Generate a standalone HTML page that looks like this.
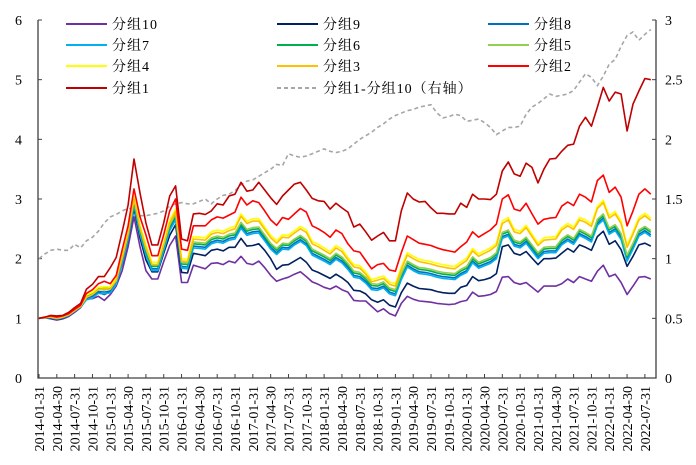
<!DOCTYPE html>
<html><head><meta charset="utf-8">
<style>
html,body{margin:0;padding:0;background:#fff;}
svg{display:block;font-family:"Liberation Serif","Noto Serif CJK SC",serif;}
</style></head>
<body>
<svg id="chart" width="696" height="465" viewBox="0 0 696 465" xmlns="http://www.w3.org/2000/svg">
<g id="axes"></g>
<g id="series"></g>
<g id="legend"></g>
</svg>
<script>
const leftTicks = [0,1,2,3,4,5,6];
const rightTicks = ["0","0.5","1","1.5","2","2.5","3"];
const xLabels = ["2014-01-31","2014-04-30","2014-07-31","2014-10-31","2015-01-31","2015-04-30","2015-07-31","2015-10-31","2016-01-31","2016-04-30","2016-07-31","2016-10-31","2017-01-31","2017-04-30","2017-07-31","2017-10-31","2018-01-31","2018-04-30","2018-07-31","2018-10-31","2019-01-31","2019-04-30","2019-07-31","2019-10-31","2020-01-31","2020-04-30","2020-07-31","2020-10-31","2021-01-31","2021-04-30","2021-07-31","2021-10-31","2022-01-31","2022-04-30","2022-07-31"];

const g1 = [1.00,1.02,1.05,1.04,1.05,1.10,1.18,1.25,1.49,1.57,1.70,1.70,1.85,2.02,2.45,2.90,3.67,3.10,2.60,2.23,2.23,2.60,3.05,3.22,2.33,2.30,2.75,2.76,2.74,2.80,2.92,2.90,3.05,3.08,3.28,3.13,3.15,3.28,3.15,3.02,2.91,3.05,3.15,3.25,3.28,3.15,3.01,2.97,2.96,2.83,2.93,2.85,2.78,2.53,2.58,2.45,2.31,2.38,2.44,2.30,2.30,2.80,3.10,3.00,2.95,2.96,2.85,2.76,2.76,2.75,2.75,2.93,2.86,3.08,3.00,3.00,2.99,3.08,3.47,3.62,3.42,3.38,3.60,3.53,3.27,3.50,3.67,3.68,3.80,3.90,3.92,4.22,4.37,4.22,4.54,4.87,4.64,4.79,4.76,4.14,4.59,4.81,5.02,5.00];
const g2 = [1.00,1.02,1.04,1.02,1.04,1.08,1.15,1.22,1.42,1.48,1.58,1.62,1.58,1.72,2.15,2.55,3.17,2.70,2.40,2.05,2.05,2.40,2.80,3.00,2.16,2.14,2.55,2.55,2.55,2.65,2.70,2.68,2.73,2.78,3.03,2.90,2.97,2.94,2.80,2.65,2.56,2.69,2.66,2.75,2.84,2.78,2.55,2.50,2.44,2.36,2.48,2.42,2.25,2.13,2.11,1.97,1.83,1.90,1.92,1.81,1.79,2.10,2.38,2.32,2.26,2.24,2.22,2.18,2.15,2.13,2.11,2.20,2.28,2.45,2.36,2.42,2.48,2.58,3.00,3.07,2.83,2.80,2.93,2.75,2.58,2.66,2.68,2.69,2.88,2.95,2.89,3.08,3.03,2.95,3.31,3.40,3.11,3.20,3.03,2.55,2.80,3.08,3.17,3.08];
const g3 = [1.00,1.01,1.02,1.00,1.02,1.06,1.13,1.20,1.35,1.40,1.48,1.49,1.49,1.63,2.01,2.41,3.00,2.52,2.19,1.90,1.90,2.23,2.60,2.79,1.96,1.95,2.33,2.32,2.31,2.41,2.44,2.42,2.47,2.50,2.71,2.59,2.63,2.63,2.49,2.35,2.26,2.36,2.35,2.43,2.50,2.44,2.25,2.20,2.14,2.08,2.18,2.12,1.98,1.86,1.84,1.74,1.61,1.64,1.67,1.57,1.54,1.82,2.06,2.00,1.95,1.93,1.91,1.88,1.86,1.84,1.83,1.90,1.97,2.13,2.04,2.09,2.14,2.22,2.59,2.65,2.45,2.42,2.52,2.37,2.22,2.31,2.32,2.33,2.48,2.55,2.49,2.65,2.61,2.54,2.84,2.94,2.68,2.75,2.59,2.19,2.41,2.65,2.72,2.64];
const g4 = [1.00,1.02,1.03,1.01,1.03,1.07,1.14,1.21,1.39,1.44,1.52,1.53,1.53,1.67,2.05,2.45,3.04,2.56,2.23,1.94,1.94,2.27,2.64,2.83,2.00,1.99,2.37,2.36,2.35,2.45,2.48,2.46,2.51,2.54,2.75,2.63,2.67,2.67,2.53,2.39,2.30,2.40,2.39,2.47,2.54,2.48,2.29,2.24,2.18,2.12,2.22,2.16,2.02,1.90,1.88,1.78,1.65,1.68,1.71,1.61,1.58,1.86,2.10,2.04,1.99,1.97,1.95,1.92,1.90,1.88,1.87,1.94,2.01,2.17,2.08,2.13,2.18,2.26,2.63,2.69,2.49,2.46,2.56,2.41,2.26,2.35,2.36,2.37,2.52,2.59,2.53,2.69,2.65,2.58,2.88,2.98,2.72,2.79,2.63,2.23,2.45,2.69,2.76,2.68];
const g5 = [1.00,1.02,1.02,1.00,1.02,1.06,1.13,1.20,1.40,1.43,1.52,1.51,1.53,1.67,2.02,2.42,2.99,2.51,2.16,1.90,1.90,2.23,2.57,2.75,1.94,1.93,2.28,2.27,2.26,2.35,2.38,2.36,2.41,2.43,2.61,2.49,2.52,2.53,2.40,2.26,2.17,2.26,2.25,2.33,2.39,2.32,2.16,2.11,2.06,2.00,2.09,2.03,1.92,1.79,1.77,1.69,1.58,1.57,1.61,1.51,1.48,1.75,1.96,1.90,1.85,1.84,1.82,1.79,1.77,1.76,1.75,1.82,1.87,2.03,1.94,1.98,2.02,2.10,2.44,2.48,2.31,2.28,2.36,2.23,2.10,2.19,2.20,2.20,2.33,2.40,2.34,2.49,2.44,2.38,2.66,2.75,2.51,2.57,2.42,2.06,2.26,2.48,2.54,2.47];
const g6 = [1.00,1.02,1.02,1.00,1.02,1.06,1.13,1.20,1.38,1.41,1.49,1.48,1.50,1.64,1.99,2.39,2.96,2.48,2.13,1.87,1.87,2.20,2.54,2.72,1.91,1.90,2.25,2.24,2.23,2.32,2.35,2.33,2.38,2.40,2.58,2.46,2.49,2.50,2.37,2.23,2.14,2.23,2.22,2.30,2.36,2.29,2.13,2.08,2.03,1.97,2.06,2.00,1.89,1.76,1.74,1.66,1.55,1.54,1.58,1.48,1.45,1.72,1.93,1.87,1.82,1.81,1.79,1.76,1.74,1.73,1.72,1.79,1.84,2.00,1.91,1.95,1.99,2.07,2.41,2.45,2.28,2.25,2.33,2.20,2.07,2.16,2.17,2.17,2.30,2.37,2.31,2.46,2.41,2.35,2.63,2.72,2.48,2.54,2.39,2.03,2.23,2.45,2.51,2.44];
const g7 = [1.00,1.01,1.01,0.99,1.01,1.05,1.12,1.19,1.31,1.34,1.42,1.41,1.43,1.57,1.92,2.32,2.89,2.41,2.06,1.80,1.80,2.13,2.47,2.65,1.84,1.83,2.18,2.17,2.16,2.25,2.28,2.26,2.31,2.33,2.51,2.39,2.42,2.43,2.30,2.16,2.07,2.16,2.15,2.23,2.29,2.22,2.06,2.01,1.96,1.90,1.99,1.93,1.82,1.69,1.67,1.59,1.48,1.47,1.51,1.41,1.38,1.65,1.86,1.80,1.75,1.74,1.72,1.69,1.67,1.66,1.65,1.72,1.77,1.93,1.84,1.88,1.92,2.00,2.34,2.38,2.21,2.18,2.26,2.13,2.00,2.09,2.10,2.10,2.23,2.30,2.24,2.39,2.34,2.28,2.56,2.65,2.41,2.47,2.32,1.96,2.16,2.38,2.44,2.37];
const g8 = [1.00,1.01,1.01,0.99,1.01,1.05,1.12,1.19,1.34,1.37,1.45,1.44,1.46,1.60,1.95,2.35,2.92,2.44,2.09,1.83,1.83,2.16,2.50,2.68,1.87,1.86,2.21,2.20,2.19,2.28,2.31,2.29,2.34,2.36,2.54,2.42,2.45,2.46,2.33,2.19,2.10,2.19,2.18,2.26,2.32,2.25,2.09,2.04,1.99,1.93,2.02,1.96,1.85,1.72,1.70,1.62,1.51,1.50,1.54,1.44,1.41,1.68,1.89,1.83,1.78,1.77,1.75,1.72,1.70,1.69,1.68,1.75,1.80,1.96,1.87,1.91,1.95,2.03,2.37,2.41,2.24,2.21,2.29,2.16,2.03,2.12,2.13,2.13,2.26,2.33,2.27,2.42,2.37,2.31,2.59,2.68,2.44,2.50,2.35,1.99,2.19,2.41,2.47,2.40];
const g9 = [1.00,1.01,1.00,0.99,1.00,1.05,1.12,1.19,1.35,1.38,1.43,1.40,1.45,1.59,1.91,2.31,2.84,2.35,1.98,1.78,1.78,2.09,2.39,2.57,1.77,1.76,2.09,2.07,2.05,2.14,2.16,2.13,2.19,2.19,2.34,2.21,2.22,2.25,2.14,2.00,1.82,1.89,1.90,1.96,2.02,1.94,1.81,1.77,1.72,1.67,1.74,1.68,1.60,1.47,1.46,1.41,1.31,1.27,1.31,1.22,1.19,1.43,1.59,1.54,1.50,1.49,1.48,1.45,1.43,1.42,1.42,1.52,1.55,1.70,1.63,1.65,1.68,1.75,2.20,2.23,2.09,2.06,2.12,2.01,1.90,2.00,2.00,2.01,2.09,2.17,2.11,2.23,2.19,2.14,2.37,2.46,2.24,2.30,2.15,1.87,2.04,2.23,2.26,2.21];
const g10 = [1.00,1.01,0.99,0.97,0.99,1.03,1.10,1.18,1.32,1.33,1.37,1.30,1.40,1.54,1.80,2.20,2.70,2.20,1.80,1.66,1.66,1.95,2.22,2.38,1.60,1.60,1.89,1.86,1.83,1.92,1.93,1.90,1.96,1.93,2.04,1.92,1.90,1.96,1.85,1.72,1.62,1.66,1.69,1.74,1.78,1.70,1.61,1.57,1.52,1.49,1.54,1.48,1.44,1.30,1.29,1.29,1.20,1.11,1.16,1.08,1.04,1.25,1.37,1.32,1.29,1.28,1.27,1.25,1.24,1.23,1.24,1.28,1.30,1.44,1.37,1.38,1.40,1.45,1.69,1.70,1.60,1.57,1.60,1.52,1.44,1.54,1.54,1.54,1.58,1.66,1.60,1.70,1.66,1.62,1.79,1.89,1.70,1.74,1.60,1.40,1.54,1.69,1.70,1.66];
const spread = [1.00,1.04,1.07,1.08,1.07,1.07,1.12,1.09,1.15,1.18,1.23,1.30,1.35,1.37,1.40,1.42,1.42,1.36,1.36,1.37,1.38,1.40,1.44,1.46,1.47,1.46,1.46,1.48,1.50,1.46,1.50,1.53,1.54,1.57,1.62,1.65,1.66,1.69,1.72,1.75,1.79,1.78,1.88,1.86,1.85,1.86,1.88,1.90,1.92,1.90,1.89,1.90,1.92,1.96,2.00,2.03,2.06,2.10,2.13,2.17,2.20,2.22,2.24,2.25,2.27,2.28,2.29,2.22,2.18,2.19,2.21,2.20,2.15,2.16,2.17,2.14,2.10,2.04,2.07,2.10,2.10,2.11,2.21,2.27,2.30,2.34,2.38,2.36,2.37,2.38,2.41,2.48,2.55,2.52,2.45,2.53,2.63,2.67,2.78,2.87,2.90,2.83,2.88,2.92];

const NS = "http://www.w3.org/2000/svg";
const X0 = 39, XSTEP = 5.94, PT = 20, PB = 378, LX = 38, RX = 656;
function xPos(i){ return X0 + i*XSTEP; }
function yLeft(v){ return PB - v*(PB-PT)/6; }
function yRight(v){ return PB - v*(PB-PT)/3; }
function mk(tag, attrs, parent){ const e=document.createElementNS(NS,tag); for(const k in attrs) e.setAttribute(k,attrs[k]); parent.appendChild(e); return e; }

const axes = document.getElementById('axes');
let ax = mk('path',{d:`M${LX},${PT} L${LX},${PB} L${RX},${PB} L${RX},${PT}`,fill:'none',stroke:'#404040','stroke-width':1.3},axes);


leftTicks.forEach(v=>{
  const y=yLeft(v);
  const t=mk('line',{x1:LX,x2:LX+4,y1:y,y2:y,stroke:'#404040','stroke-width':1},axes);
  
  
  const l=mk('text',{x:22,y:y+5,'text-anchor':'end','font-size':14,fill:'#000'},axes);
  l.textContent=String(v);
  
  
});
rightTicks.forEach(s=>{
  const y=yRight(parseFloat(s));
  const t=mk('line',{x1:RX-4,x2:RX,y1:y,y2:y,stroke:'#404040','stroke-width':1},axes);
  
  
  const l=mk('text',{x:665,y:y+5,'text-anchor':'start','font-size':14,fill:'#000'},axes);
  l.textContent=s;
  
  
});
xLabels.forEach((s,k)=>{
  const x=xPos(k*3);
  const t=mk('line',{x1:x,x2:x,y1:PB-4,y2:PB,stroke:'#404040','stroke-width':1},axes);
  
  
  const l=mk('text',{x:0,y:0,transform:`translate(${x+5},386) rotate(-90)`,'text-anchor':'end','font-size':14,fill:'#000'},axes);
  l.textContent=s;
  
  
});

const seriesList = [
  {name:'分组10',data:g10,color:'#7030A0'},
  {name:'分组9',data:g9,color:'#002060'},
  {name:'分组8',data:g8,color:'#0070C0'},
  {name:'分组7',data:g7,color:'#00B0F0'},
  {name:'分组6',data:g6,color:'#00B050'},
  {name:'分组5',data:g5,color:'#92D050'},
  {name:'分组4',data:g4,color:'#FFFF00'},
  {name:'分组3',data:g3,color:'#FFC000'},
  {name:'分组2',data:g2,color:'#FF0000'},
  {name:'分组1',data:g1,color:'#C00000'}
];
const sg = document.getElementById('series');
const sp = mk('polyline',{points:spread.map((v,i)=>xPos(i).toFixed(1)+','+yRight(v).toFixed(1)).join(' '),fill:'none',stroke:'#A6A6A6','stroke-width':1.6,'stroke-dasharray':'4,3'},sg);


seriesList.forEach((s,k)=>{
  const p=mk('polyline',{points:s.data.map((v,i)=>xPos(i).toFixed(1)+','+yLeft(v).toFixed(1)).join(' '),fill:'none',stroke:s.color,'stroke-width':1.6,'stroke-linejoin':'round'},sg);
  
  
});

const legendItems = [
  ['分组10','#7030A0',66,24,false],['分组9','#002060',277,24,false],['分组8','#0070C0',488,24,false],
  ['分组7','#00B0F0',66,45,false],['分组6','#00B050',277,45,false],['分组5','#92D050',488,45,false],
  ['分组4','#FFFF00',66,66,false],['分组3','#FFC000',277,66,false],['分组2','#FF0000',488,66,false],
  ['分组1','#C00000',66,88,false],['分组1-分组10（右轴）','#A6A6A6',277,88,true]
];
const lg = document.getElementById('legend');
legendItems.forEach(it=>{
  const g=mk('g',{},lg);
  
  
  const a={x1:it[2],x2:it[2]+41,y1:it[3],y2:it[3],stroke:it[1],'stroke-width':2};
  if(it[4]) a['stroke-dasharray']='4,3';
  const ln=mk('line',a,g);
  
  
  const tx=mk('text',{x:it[2]+46,y:it[3]+5,'font-size':14,fill:'#000','letter-spacing':'1'},g);
  tx.textContent=it[0];
  
  
});
</script>
</body></html>
